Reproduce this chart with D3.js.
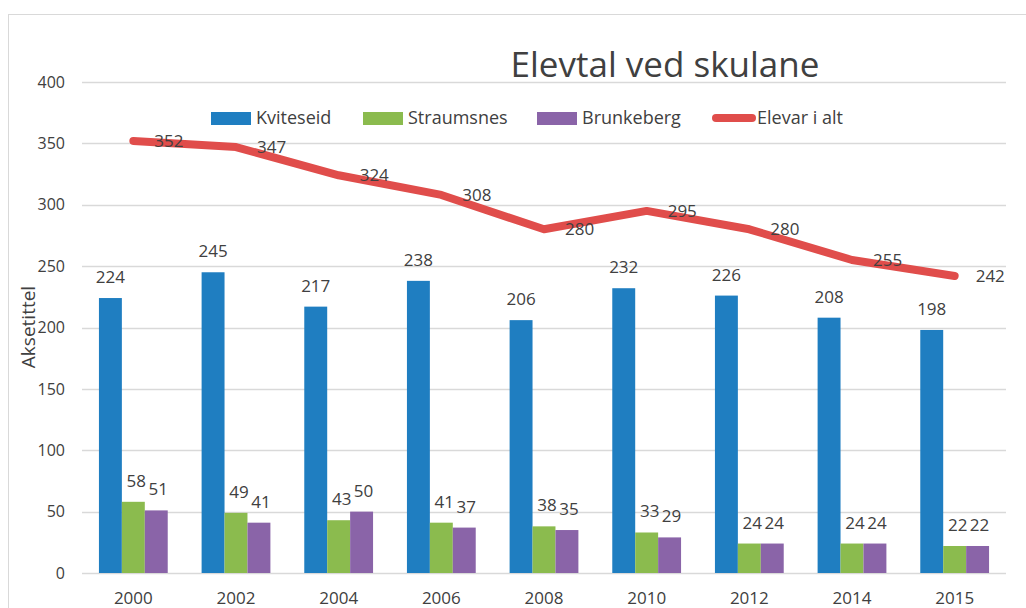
<!DOCTYPE html>
<html>
<head>
<meta charset="utf-8">
<script src="https://cdn.jsdelivr.net/npm/d3@7"></script>
<style>
  body { margin: 0; background: #fff; }
  svg text { font-family: "Open Sans", "Liberation Sans", sans-serif; fill: #404040; }
</style>
</head>
<body>
<div id="chart"></div>
<script>
// Data
const years = ["2000", "2002", "2004", "2006", "2008", "2010", "2012", "2014", "2015"];
const kviteseid = [224, 245, 217, 238, 206, 232, 226, 208, 198];
const straumsnes = [58, 49, 43, 41, 38, 33, 24, 24, 22];
const brunkeberg = [51, 41, 50, 37, 35, 29, 24, 24, 22];
const elevarIAlt = [352, 347, 324, 308, 280, 295, 280, 255, 242];
const yTicks = [0, 50, 100, 150, 200, 250, 300, 350, 400];

const seriesNames = ["Kviteseid", "Straumsnes", "Brunkeberg"];
const seriesValues = [kviteseid, straumsnes, brunkeberg];
const colors = ["#1f7ec1", "#8bbb4e", "#8a64a8"];
const lineColor = "#e04d4b";

const W = 1026, H = 608;
const margin = { top: 82, right: 20, bottom: 35, left: 82 };
const width = 1006 - margin.left;
const height = 573 - margin.top;

const svg = d3.select('#chart')
  .append('svg')
  .attr('width', W)
  .attr('height', H);

// chart frame
svg.append('rect')
  .attr('x', 8.5).attr('y', 14.5)
  .attr('width', 1040).attr('height', 640)
  .attr('fill', 'none')
  .attr('stroke', '#d9d9d9');

const g = svg.append('g')
  .attr('transform', `translate(${margin.left},${margin.top})`);

// Scales
const x = d3.scaleBand().domain(years).range([0, width]).paddingInner(0).paddingOuter(0);
const xSub = d3.scaleBand().domain(seriesNames).range([x.bandwidth() * 0.165, x.bandwidth() * 0.835]);
const y = d3.scaleLinear().domain([0, 400]).range([height, 0]);

// Grid lines
g.selectAll('.grid')
  .data(yTicks)
  .enter()
  .append('line')
  .attr('x1', 0).attr('x2', width)
  .attr('y1', d => Math.round(y(d)) + 0.5)
  .attr('y2', d => Math.round(y(d)) + 0.5)
  .attr('stroke', '#d9d9d9')
  .attr('stroke-width', 1.5);

// Y axis labels
const yAxis = g.append('g').call(d3.axisLeft(y).tickValues(yTicks).tickSize(0).tickPadding(17));
yAxis.select('.domain').remove();
yAxis.selectAll('text').style('font-size', '16px').attr('fill', '#595959');

// X axis labels
const xAxis = g.append('g')
  .attr('transform', `translate(0,${height})`)
  .call(d3.axisBottom(x).tickSize(0).tickPadding(19));
xAxis.select('.domain').remove();
xAxis.selectAll('text').style('font-size', '17px').attr('fill', '#404040');

// Bars
seriesNames.forEach((name, i) => {
  const vals = seriesValues[i];
  const grp = g.append('g');
  grp.selectAll('rect')
    .data(years)
    .enter()
    .append('rect')
    .attr('x', (d) => x(d) + xSub(name))
    .attr('width', xSub.bandwidth())
    .attr('y', (d, j) => y(vals[j]))
    .attr('height', (d, j) => height - y(vals[j]))
    .attr('fill', colors[i]);
  grp.selectAll('text')
    .data(years)
    .enter()
    .append('text')
    .attr('x', (d) => x(d) + xSub(name) + xSub.bandwidth() / 2 + (i === 1 ? 3 : i === 2 ? 2 : 0))
    .attr('y', (d, j) => y(vals[j]) - 15)
    .attr('text-anchor', 'middle')
    .style('font-size', '17px')
    .text((d, j) => vals[j]);
});

// Total line
const line = d3.line()
  .x((d, j) => x(years[j]) + x.bandwidth() / 2)
  .y(d => y(d));

g.append('path')
  .datum(elevarIAlt)
  .attr('d', line)
  .attr('fill', 'none')
  .attr('stroke', lineColor)
  .attr('stroke-width', 8)
  .attr('stroke-linecap', 'round')
  .attr('stroke-linejoin', 'round');

g.selectAll('.line-label')
  .data(elevarIAlt)
  .enter()
  .append('text')
  .attr('x', (d, j) => x(years[j]) + x.bandwidth() / 2 + 21)
  .attr('y', d => y(d))
  .attr('dy', '0.35em')
  .style('font-size', '17px')
  .text(d => d);

// Title
svg.append('text')
  .attr('x', 665)
  .attr('y', 77)
  .attr('text-anchor', 'middle')
  .style('font-size', '35px')
  .attr('fill', '#595959')
  .text('Elevtal ved skulane');

// Axis title
svg.append('text')
  .attr('transform', 'translate(35,327) rotate(-90)')
  .attr('text-anchor', 'middle')
  .style('font-size', '19px')
  .attr('fill', '#595959')
  .text('Aksetittel');

// Legend
const legendItems = [
  { name: "Kviteseid", color: colors[0], x: 211, type: 'rect' },
  { name: "Straumsnes", color: colors[1], x: 363, type: 'rect' },
  { name: "Brunkeberg", color: colors[2], x: 537, type: 'rect' },
  { name: "Elevar i alt", color: lineColor, x: 712, type: 'line' }
];
const legend = svg.append('g');
legendItems.forEach(item => {
  if (item.type === 'rect') {
    legend.append('rect')
      .attr('x', item.x).attr('y', 112)
      .attr('width', 40).attr('height', 13)
      .attr('fill', item.color);
  } else {
    legend.append('line')
      .attr('x1', item.x + 4).attr('x2', item.x + 40)
      .attr('y1', 118).attr('y2', 118)
      .attr('stroke', item.color)
      .attr('stroke-width', 8)
      .attr('stroke-linecap', 'round');
  }
  legend.append('text')
    .attr('x', item.x + 45)
    .attr('y', 118)
    .attr('dy', '0.35em')
    .style('font-size', '18px')
    .text(item.name);
});
</script>
</body>
</html>
